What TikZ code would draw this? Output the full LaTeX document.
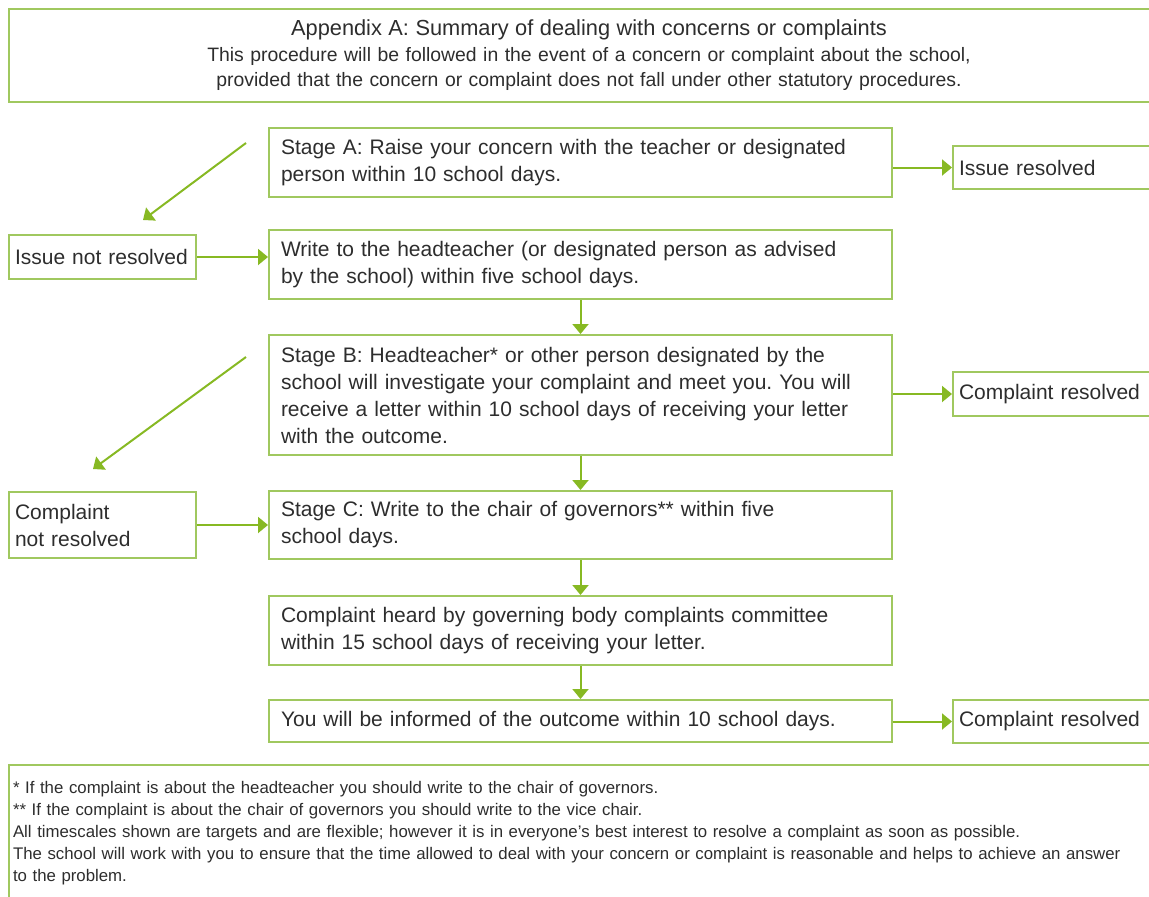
\documentclass[tikz,border=0pt]{standalone}
\usepackage{fontspec}
\setmainfont{Liberation Sans}
\usepackage{tikz}
\usetikzlibrary{arrows.meta}
\definecolor{vienla}{RGB}{160,200,95}
\definecolor{muitenla}{RGB}{135,185,35}
\definecolor{chuxam}{RGB}{45,45,45}
\frenchspacing
\begin{document}
\begin{tikzpicture}[x=1pt,y=-1pt,
		khung/.style={draw=vienla,line width=2pt,text=chuxam,anchor=north west,align=left,inner xsep=12pt,inner ysep=0pt,font=\fontsize{21}{27}\selectfont},
		khungbuoc/.style={khung,minimum width=623pt,text width=599pt},
		khungle/.style={khung,inner xsep=6pt},
		muiten/.style={draw=muitenla,line width=2pt,-{Triangle[length=10pt,width=16pt]}}]
			\useasboundingbox (0,0) rectangle (1149,897);
			\clip (0,0) rectangle (1149,897);
			\node[khung,align=center,minimum width=1160pt,minimum height=93pt,text width=1136pt,font=\fontsize{19.4}{25.5}\selectfont] (tieude) at (8,8) {{\fontsize{21.8}{25}\selectfont Appendix A: Summary of dealing with concerns or complaints}\\This procedure will be followed in the event of a concern or complaint about the school,\\ provided that the concern or complaint does not fall under other statutory procedures.};
			\node[khungbuoc,minimum height=69pt] (buoca) at (268,127) {Stage A: Raise your concern with the teacher or designated\\person within 10 school days.};
			\node[khungbuoc,minimum height=69pt] (viethieutruong) at (268,229) {Write to the headteacher (or designated person as advised\\by the school) within five school days.};
			\node[khungbuoc,minimum height=120pt] (buocb) at (268,334) {Stage B: Headteacher* or other person designated by the\\school will investigate your complaint and meet you. You will\\receive a letter within 10 school days of receiving your letter\\with the outcome.};
			\node[khungbuoc,minimum height=68pt] (buocc) at (268,490) {Stage C: Write to the chair of governors** within five\\school days.};
			\node[khungbuoc,minimum height=69pt] (hoidong) at (268,595) {Complaint heard by governing body complaints committee\\within 15 school days of receiving your letter.};
			\node[khungbuoc,minimum height=42pt] (ketqua) at (268,699) {You will be informed of the outcome within 10 school days.};
			\node[khungle,minimum width=187pt,text width=175pt,minimum height=44pt] (chuaxonga) at (8,234) {Issue not resolved};
			\node[khungle,minimum width=187pt,text width=175pt,minimum height=66pt] (chuaxongb) at (8,491) {Complaint\\not resolved};
			\node[khungle,minimum width=210pt,text width=198pt,minimum height=43pt] (xonga) at (952,145) {Issue resolved};
			\node[khungle,minimum width=210pt,text width=198pt,minimum height=44pt] (xongb) at (952,371) {Complaint resolved};
			\node[khungle,minimum width=210pt,text width=198pt,minimum height=43pt] (xongc) at (952,699) {Complaint resolved};
			\node[khung,inner xsep=4pt,minimum width=1160pt,minimum height=136pt,text width=1152pt,font=\fontsize{16.8}{22}\selectfont] (ghichu) at (8,764) {* If the complaint is about the headteacher you should write to the chair of governors.\\{}** If the complaint is about the chair of governors you should write to the vice chair.\\All timescales shown are targets and are flexible; however it is in everyone’s best interest to resolve a complaint as soon as possible.\\The school will work with you to ensure that the time allowed to deal with your concern or complaint is reasonable and helps to achieve an answer\\to the problem.};
			\coordinate (xienaa) at (246,143);
			\coordinate (xienab) at (143,220);
			\coordinate (xienba) at (246,357);
			\coordinate (xienbb) at (93,469);
			\draw[muiten] (xienaa) -- (xienab);
			\draw[muiten] (xienba) -- (xienbb);
			\draw[muiten] (buoca.east |- xonga.west) -- (xonga.west);
			\draw[muiten] (chuaxonga.east) -- (chuaxonga.east -| viethieutruong.west);
			\draw[muiten] (buocb.east |- xongb.west) -- (xongb.west);
			\draw[muiten] (chuaxongb.east) -- (chuaxongb.east -| buocc.west);
			\draw[muiten] (ketqua.east |- xongc.west) -- (xongc.west);
			\draw[muiten] (viethieutruong.south) -- (buocb.north);
			\draw[muiten] (buocb.south) -- (buocc.north);
			\draw[muiten] (buocc.south) -- (hoidong.north);
			\draw[muiten] (hoidong.south) -- (ketqua.north);
		\end{tikzpicture}
\end{document}
